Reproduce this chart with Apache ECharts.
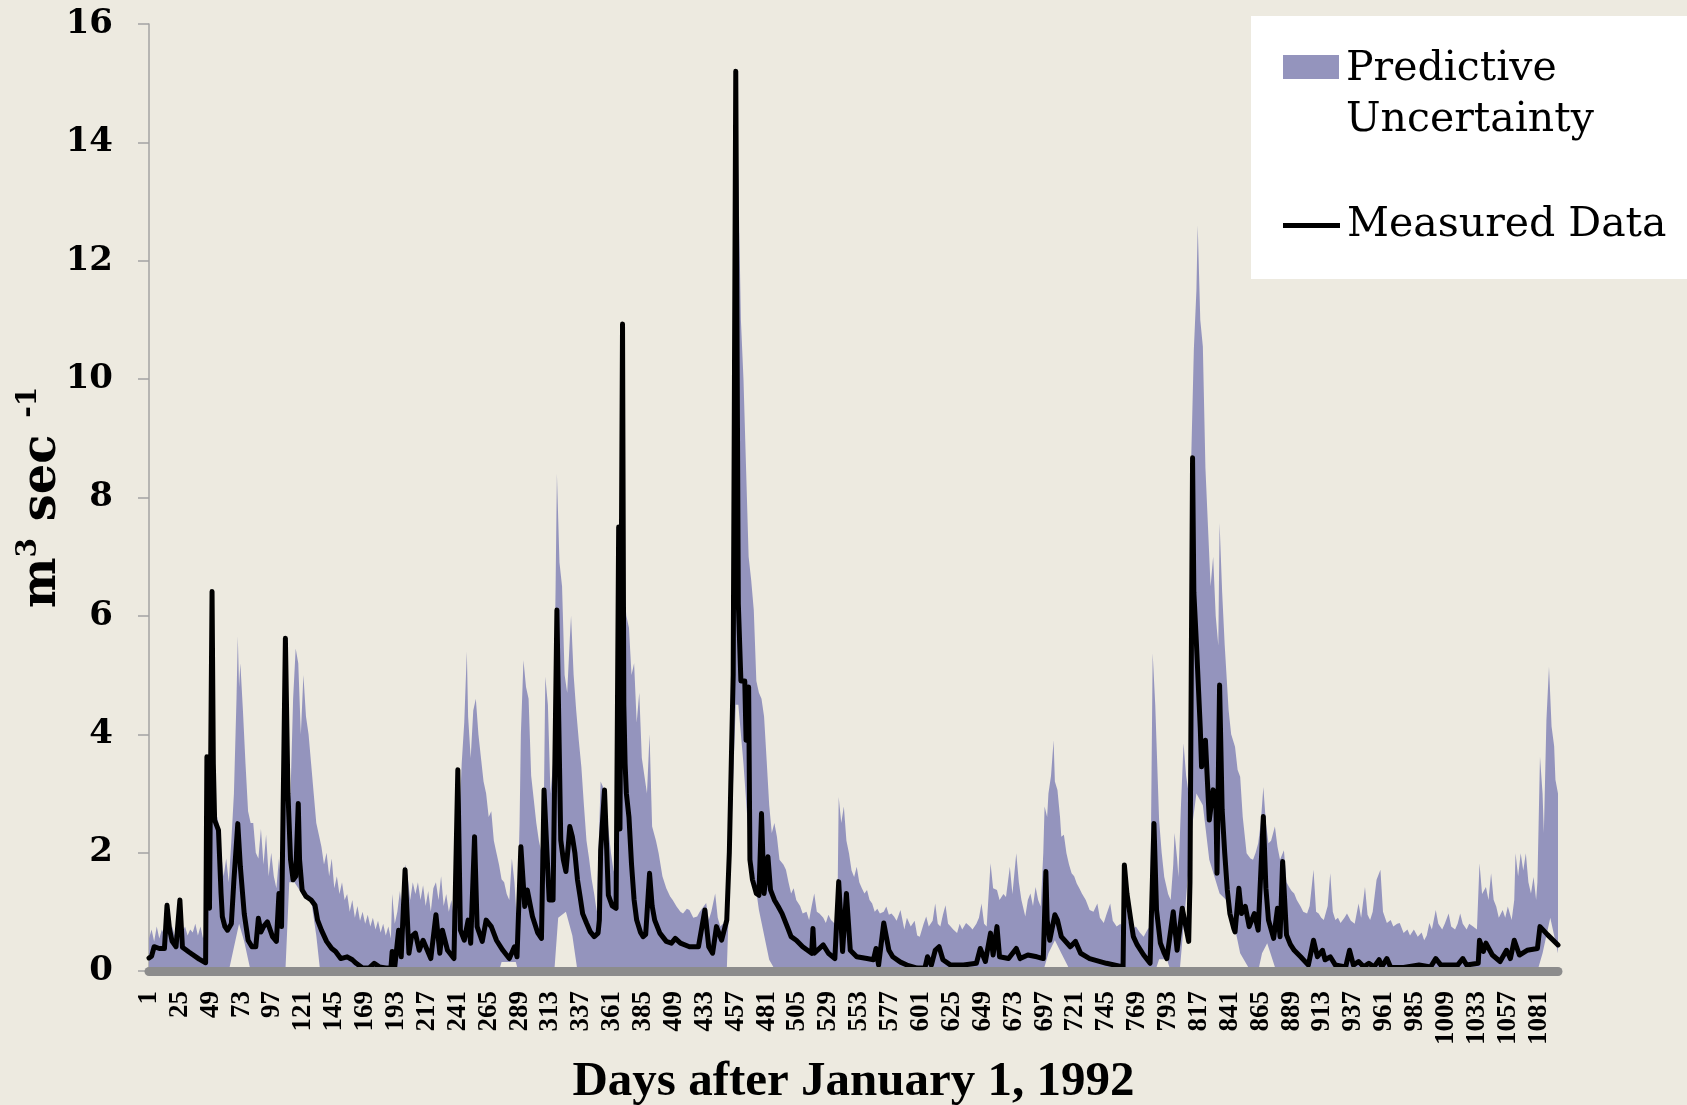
<!DOCTYPE html>
<html>
<head>
<meta charset="utf-8">
<script src="https://cdn.jsdelivr.net/npm/echarts@6/dist/echarts.min.js"></script>
<style>
  html, body { margin: 0; padding: 0; background: #edeae0; }
  #chart { width: 1687px; height: 1105px; }
</style>
</head>
<body>
<div id="chart"></div>
<script>
// Daily streamflow (m3/s), days counted from January 1, 1992.
const dayCategories = [];
for (let d = 1; d <= 1096; d++) dayCategories.push(String(d));

// Measured discharge: [day, value]
const measuredFlow = [
  [1,0.22],[3,0.25],[5,0.41],[9,0.38],[13,0.38],[15,1.11],[17,0.7],[19,0.5],[22,0.41],[25,1.2],[27,0.4],
  [32,0.32],[40,0.2],[45,0.14],[46,3.62],[48,1.06],[50,6.41],[51,3.5],[52,2.55],[55,2.38],[57,1.31],[58,0.92],
  [60,0.75],[62,0.69],[65,0.8],[67,1.54],[70,2.49],[72,1.76],[75,0.97],[78,0.52],[81,0.41],[84,0.41],[86,0.89],[88,0.66],
  [90,0.75],[93,0.83],[97,0.58],[100,0.5],[102,1.31],[104,0.75],[107,5.62],[109,3.0],[111,1.88],[113,1.54],[115,1.6],
  [117,2.83],[118,1.88],[120,1.37],[123,1.26],[127,1.2],[130,1.11],[132,0.86],[135,0.69],[139,0.5],[143,0.38],[146,0.33],[150,0.21],[155,0.24],
  [159,0.19],[162,0.13],[167,0.05],[172,0.05],[176,0.13],[180,0.07],[185,0.05],[189,0.05],[190,0.33],[192,0.07],
  [195,0.69],[197,0.24],[200,1.71],[203,0.3],[205,0.58],[208,0.64],[211,0.35],[214,0.52],[220,0.21],[224,0.95],
  [227,0.3],[229,0.69],[233,0.35],[238,0.21],[241,3.4],[243,0.69],[246,0.52],[249,0.86],[251,0.47],[254,2.27],
  [256,0.75],[260,0.5],[263,0.86],[267,0.75],[271,0.52],[276,0.35],[281,0.21],[285,0.41],[287,0.24],[290,2.1],
  [293,1.09],[295,1.37],[299,0.92],[303,0.65],[306,0.55],[308,3.06],[312,1.2],[315,1.2],[318,6.1],[321,2.21],[323,1.88],[325,1.68],
  [327,2.16],[328,2.44],[330,2.27],[332,1.99],[334,1.54],[336,1.26],[338,0.97],[341,0.81],[344,0.66],[347,0.58],[350,0.64],[351,0.86],[352,2.04],[355,3.06],[358,1.28],[361,1.1],[364,1.06],
  [366,7.5],[367,2.4],[369,10.93],[370,4.5],[371,3.5],[372,3.0],[374,2.6],[376,1.8],[378,1.2],[380,0.86],[383,0.65],[385,0.58],[387,0.62],
  [390,1.65],[392,1.1],[394,0.86],[398,0.64],[403,0.5],[407,0.47],[410,0.55],[414,0.47],[421,0.41],[428,0.41],[433,1.03],
  [436,0.41],[439,0.3],[442,0.75],[446,0.52],[450,0.86],[452,2.0],[455,5.0],[457,15.2],[459,6.2],[461,4.9],
  [464,4.9],[465,3.9],[466,3.9],[467,4.8],[468,1.88],[470,1.54],[473,1.31],[475,1.28],[477,2.66],[479,1.31],[482,1.93],
  [484,1.37],[487,1.2],[490,1.09],[493,0.97],[497,0.75],[500,0.58],[504,0.52],[509,0.41],[516,0.3],[517,0.72],[518,0.3],
  [525,0.44],[529,0.3],[534,0.21],[537,1.51],[540,0.33],[543,1.31],[546,0.35],[551,0.24],[559,0.21],[564,0.19],
  [566,0.38],[568,0.1],[572,0.81],[576,0.35],[579,0.24],[585,0.15],[590,0.1],[598,0.05],[604,0.05],[606,0.24],
  [609,0.1],[612,0.35],[615,0.41],[618,0.19],[624,0.1],[634,0.1],[644,0.13],[647,0.38],[651,0.16],[655,0.64],
  [657,0.27],[660,0.75],[662,0.24],[669,0.21],[675,0.38],[678,0.21],[684,0.27],[691,0.24],[696,0.21],[698,1.68],
  [699,0.86],[701,0.52],[705,0.95],[707,0.86],[710,0.58],[717,0.41],[721,0.5],[725,0.3],[732,0.21],[745,0.13],[758,0.07],
  [759,1.79],[761,1.31],[764,0.86],[766,0.58],[769,0.44],[774,0.27],[779,0.13],[782,2.49],[784,1.03],[787,0.47],[790,0.3],[792,0.21],[797,1.0],[800,0.35],
  [804,1.06],[809,0.5],[810,1.5],[812,8.67],[813,6.4],[815,5.53],[818,4.1],[819,3.45],[822,3.9],[823,3.93],[825,2.55],[828,3.06],[830,3.0],
  [831,1.65],[833,4.83],[835,2.72],[837,1.99],[839,1.37],[841,0.97],[844,0.72],[845,0.66],[848,1.4],[850,0.97],[853,1.09],[856,0.75],[860,0.97],
  [863,0.69],[867,2.61],[869,1.4],[871,0.86],[875,0.55],[878,1.06],[880,0.58],[882,1.85],[885,0.61],[888,0.45],[891,0.35],[896,0.24],
  [902,0.1],[906,0.52],[909,0.24],[913,0.35],[915,0.19],[919,0.24],[923,0.1],[931,0.07],[934,0.35],[937,0.1],
  [941,0.16],[945,0.07],[949,0.13],[953,0.07],[957,0.19],[959,0.07],[963,0.21],[966,0.06],[976,0.06],[988,0.1],
  [997,0.07],[1001,0.21],[1005,0.1],[1018,0.1],[1022,0.21],[1025,0.1],[1034,0.13],[1035,0.52],[1038,0.33],[1040,0.47],
  [1045,0.27],[1051,0.16],[1056,0.35],[1059,0.21],[1062,0.52],[1066,0.27],[1072,0.35],[1080,0.38],[1082,0.75],[1088,0.61],
  [1096,0.44]
];

// Upper limit of the predictive uncertainty band: [day, value]
const bandUpper = [
  [1,0.55],[3,0.7],[5,0.5],[7,0.75],[9,0.55],[11,0.7],[13,0.6],[15,1.2],[17,0.65],[19,0.75],
  [21,0.6],[23,0.7],[25,1.25],[27,0.65],[29,0.75],[31,0.6],[33,0.7],[35,0.65],[37,0.8],[39,0.6],
  [41,0.75],[43,0.55],[45,0.7],[46,3.65],[47,1.5],[49,2.6],[50,6.45],[51,2.9],[53,2.7],[55,2.5],
  [57,2.0],[59,1.6],[61,1.9],[63,1.5],[65,2.2],[67,3.0],[69,4.6],[70,5.65],[71,4.8],[72,5.2],
  [74,4.4],[76,3.5],[78,2.7],[80,2.5],[82,2.5],[84,2.0],[86,1.9],[88,2.4],[90,1.8],[92,2.3],
  [94,1.6],[96,2.0],[98,1.6],[100,1.4],[102,1.9],[104,1.4],[106,1.8],[107,5.65],[109,2.5],[111,3.0],
  [113,4.6],[115,5.45],[117,5.2],[119,4.0],[121,5.0],[123,4.3],[125,4.0],[127,3.5],[129,3.0],[131,2.5],
  [133,2.3],[135,2.1],[137,1.8],[139,2.0],[141,1.6],[143,1.9],[145,1.4],[147,1.6],[149,1.3],[151,1.5],
  [153,1.2],[155,1.3],[157,1.0],[159,1.2],[161,0.9],[163,1.1],[165,0.85],[167,1.0],[169,0.8],[171,0.95],
  [173,0.75],[175,0.9],[177,0.7],[179,0.85],[181,0.65],[183,0.8],[185,0.6],[187,0.75],[189,0.55],[190,1.3],
  [192,0.8],[194,1.0],[196,1.35],[198,1.0],[200,1.8],[202,1.6],[204,1.2],[206,1.5],[208,1.3],[210,1.5],
  [212,1.2],[214,1.45],[216,1.1],[218,1.35],[220,1.0],[222,1.4],[224,1.5],[226,1.2],[228,1.6],[230,1.1],
  [232,1.3],[234,1.0],[236,1.2],[238,0.9],[240,0.7],[241,3.45],[242,2.4],[244,3.5],[246,4.2],[248,5.4],
  [249,4.3],[251,3.6],[253,4.4],[255,4.6],[257,4.0],[259,3.6],[261,3.2],[263,3.0],[265,2.6],[267,2.7],
  [269,2.2],[271,2.0],[273,1.8],[275,1.55],[277,1.5],[279,1.3],[281,1.2],[283,1.9],[285,1.5],[287,0.8],
  [289,2.5],[290,4.0],[292,5.25],[294,4.8],[296,4.6],[298,3.3],[300,2.9],[302,2.5],[304,2.2],[306,2.0],
  [308,3.1],[309,4.97],[311,4.5],[313,3.0],[315,3.5],[317,6.5],[318,8.4],[320,6.9],[322,6.5],[324,5.0],
  [326,4.7],[328,5.6],[329,6.0],[331,5.0],[333,4.4],[335,3.9],[337,3.45],[339,2.8],[341,2.2],[343,1.9],
  [345,1.55],[347,1.3],[349,1.0],[351,2.5],[352,3.2],[354,3.1],[356,2.9],[358,2.4],[360,2.0],[362,1.7],
  [364,1.6],[366,7.55],[367,3.0],[369,11.0],[370,6.5],[372,6.0],[374,5.8],[376,5.0],[378,5.2],[380,4.2],
  [382,4.7],[384,3.6],[386,3.3],[388,3.0],[390,4.0],[392,2.44],[395,2.2],[397,2.0],[400,1.6],[403,1.4],
  [406,1.26],[408,1.2],[411,1.09],[414,1.0],[416,0.97],[419,1.05],[421,1.03],[424,0.9],[427,0.92],[429,1.0],
  [432,1.09],[434,1.15],[436,0.86],[438,1.0],[441,1.31],[443,0.9],[445,0.75],[447,0.8],[449,0.69],[451,1.0],
  [453,2.5],[455,5.8],[457,15.2],[459,13.4],[461,11.0],[463,10.0],[465,8.5],[467,7.0],[469,6.6],[471,6.1],
  [473,4.9],[475,4.7],[477,4.6],[479,4.3],[481,3.56],[483,2.8],[485,2.33],[487,2.5],[489,2.27],[491,1.88],
  [494,1.8],[496,1.71],[498,1.5],[500,1.31],[502,1.4],[504,1.2],[507,1.1],[509,0.97],[512,1.0],[514,0.86],
  [516,1.1],[518,1.31],[520,1.0],[522,0.97],[525,0.9],[527,0.81],[529,0.95],[531,0.86],[534,0.8],[536,1.0],
  [537,2.94],[539,2.5],[541,2.78],[543,2.2],[545,1.99],[547,1.7],[549,1.59],[551,1.76],[553,1.5],[555,1.4],
  [557,1.31],[559,1.37],[561,1.2],[563,1.14],[565,1.0],[567,1.05],[569,0.97],[572,1.0],[574,1.09],[576,0.95],
  [578,0.97],[580,0.92],[582,0.85],[585,1.03],[588,0.7],[590,0.9],[593,0.75],[596,0.85],[598,0.6],[600,0.58],
  [603,0.8],[605,0.92],[607,0.75],[610,0.85],[612,1.14],[614,0.8],[616,0.75],[618,0.95],[620,1.11],[622,0.8],
  [624,0.75],[626,0.7],[629,0.64],[631,0.8],[633,0.7],[636,0.81],[639,0.75],[641,0.7],[644,0.8],[646,0.9],
  [648,1.14],[650,0.8],[652,0.75],[655,1.82],[657,1.4],[660,1.37],[662,1.2],[665,1.3],[667,1.25],[670,1.76],
  [672,1.3],[675,1.99],[677,1.5],[679,1.2],[682,0.92],[684,1.2],[686,1.31],[688,1.1],[690,1.42],[692,1.2],
  [694,1.09],[696,2.0],[697,2.78],[699,2.6],[700,3.0],[702,3.3],[704,3.9],[705,3.2],[707,3.06],[709,2.6],
  [710,2.27],[712,2.3],[714,1.99],[716,1.8],[718,1.65],[720,1.6],[722,1.48],[724,1.4],[726,1.31],[729,1.2],
  [732,1.03],[735,1.0],[738,1.14],[740,0.9],[743,0.81],[745,0.95],[748,1.14],[750,0.85],[753,0.75],[756,0.8],
  [758,0.69],[760,1.79],[762,0.85],[765,0.7],[768,0.75],[771,0.65],[774,0.58],[777,0.7],[779,0.75],[781,5.37],
  [783,4.5],[784,3.85],[786,2.55],[788,2.0],[790,1.59],[793,1.3],[795,1.2],[797,1.8],[798,2.33],[800,1.9],
  [801,1.59],[803,2.8],[805,3.85],[807,3.3],[809,3.0],[811,8.7],[813,10.5],[815,11.5],[816,12.6],[818,11.0],
  [820,10.55],[822,8.5],[824,7.5],[826,6.5],[828,7.0],[830,6.0],[832,5.5],[833,7.57],[835,6.4],[837,5.5],
  [840,4.41],[842,4.0],[845,3.79],[847,3.4],[849,3.28],[851,2.6],[854,1.99],[857,1.9],[859,1.88],[861,2.0],
  [863,2.16],[865,2.5],[867,3.11],[869,2.5],[871,2.16],[873,2.2],[876,2.44],[878,2.1],[880,1.88],[883,2.04],
  [885,1.5],[887,1.42],[889,1.35],[891,1.31],[893,1.2],[896,1.09],[898,1.0],[901,0.97],[903,1.1],[906,1.71],
  [908,1.0],[910,0.97],[912,0.9],[914,0.86],[917,1.1],[919,1.65],[921,1.0],[923,0.86],[925,0.9],[927,0.81],
  [930,0.9],[932,0.97],[935,0.85],[938,0.8],[941,1.14],[943,0.9],[946,1.42],[948,0.95],[950,0.86],[952,1.0],
  [955,1.54],[958,1.71],[960,1.0],[963,0.81],[966,0.86],[968,0.75],[971,0.8],[973,0.81],[976,0.64],[979,0.7],
  [981,0.6],[984,0.7],[987,0.58],[990,0.65],[992,0.52],[994,0.6],[996,0.81],[998,0.7],[1001,1.03],[1003,0.8],
  [1006,0.7],[1008,0.8],[1011,0.97],[1013,0.75],[1016,0.7],[1018,0.8],[1020,0.97],[1022,0.8],[1025,0.7],[1027,0.8],
  [1030,0.75],[1033,0.7],[1035,1.82],[1037,1.3],[1040,1.42],[1042,1.2],[1044,1.65],[1046,1.2],[1048,1.09],[1050,0.9],
  [1053,1.03],[1055,0.9],[1057,1.09],[1060,0.86],[1062,1.2],[1063,1.99],[1065,1.6],[1067,1.99],[1069,1.7],[1071,1.99],
  [1073,1.5],[1075,1.31],[1077,1.59],[1079,1.2],[1080,1.5],[1082,3.62],[1084,3.0],[1085,2.33],[1087,4.24],[1089,5.14],
  [1091,4.13],[1093,3.8],[1094,3.23],[1096,3.0]
];

// Lower limit of the predictive uncertainty band: [day, value]
const bandLower = [
  [1,0],[63,0],[67,0.4],[71,0.8],[75,0.5],[80,0],[107,0],[110,1.5],[114,1.5],[120,1.3],
  [127,1.2],[131,0.6],[134,0],[273,0],[275,0.15],[286,0.15],[288,0],[316,0],[319,0.9],[325,1.0],
  [330,0.6],[334,0],[450,0],[453,2.0],[457,4.5],[459,4.5],[463,3.5],[467,2.27],[475,1.03],[483,0.19],
  [488,0],[696,0],[700,0.3],[705,0.52],[710,0.3],[717,0],[783,0],[786,0.2],[792,0.2],[795,0],
  [802,0],[806,1.0],[812,2.5],[815,3.0],[820,2.8],[825,1.88],[833,1.31],[841,1.14],[849,0.3],[857,0],
  [863,0],[866,0.3],[870,0.47],[877,0],[1080,0],[1084,0.3],[1090,0.9],[1093,0.6],[1096,0.3]
];

// Y axis tick values
const yTicks = { min: 0, max: 16, step: 2 };

const PURPLE = '#9494bd';
const BG = '#edeae0';
const toCat = (arr) => arr.map(([d, v]) => [String(d), v]);

// Legend swatch for the band: a 56x24 block sitting on the first of two text lines
const bandSwatch = 'path://M0,10h56v24h-56z M0,0h0.01 M0,100h0.01';

const chart = echarts.init(document.getElementById('chart'), null, { renderer: 'canvas' });

chart.setOption({
  backgroundColor: BG,
  animation: false,
  grid: { left: 149, right: 129, top: 24, bottom: 134, containLabel: false, outerBoundsMode: 'none' },
  graphic: [{
    type: 'rect', left: 1251, top: 16, z: 0, silent: true,
    shape: { width: 436, height: 263 },
    style: { fill: '#ffffff' }
  }],
  legend: [
    {
      data: [{ name: 'Predictive Uncertainty', icon: bandSwatch }],
      left: 1283, top: 44, padding: 0, orient: 'vertical',
      itemWidth: 56, itemHeight: 100, selectedMode: false,
      formatter: () => 'Predictive\nUncertainty',
      textStyle: { fontFamily: 'DejaVu Serif', fontSize: 41, lineHeight: 51, color: '#000', padding: [0, 0, 0, 2] }
    },
    {
      data: [{ name: 'Measured Data', icon: 'rect' }],
      left: 1283, top: 203, padding: 0,
      itemWidth: 57, itemHeight: 5, selectedMode: false,
      textStyle: { fontFamily: 'DejaVu Serif', fontSize: 41, lineHeight: 45, color: '#000', padding: [0, 0, 0, 2] }
    }
  ],
  xAxis: {
    type: 'category',
    data: dayCategories,
    boundaryGap: false,
    offset: 5,
    z: 10,
    axisLine: { lineStyle: { color: '#8c8c8c', width: 9 } },
    axisTick: { show: false },
    axisLabel: {
      interval: 23, rotate: 90, margin: 15,
      fontFamily: 'Liberation Serif', fontWeight: 'bold', fontSize: 27, color: '#000'
    },
    splitLine: { show: false },
    name: 'Days after January 1, 1992',
    nameLocation: 'middle',
    nameGap: 82,
    nameTextStyle: { fontFamily: 'Liberation Serif', fontWeight: 'bold', fontSize: 49, color: '#000' }
  },
  yAxis: {
    type: 'value',
    min: yTicks.min, max: yTicks.max, interval: yTicks.step,
    axisLine: { show: true, lineStyle: { color: '#a3a3a3', width: 1.5 } },
    axisTick: { show: true, length: 11, lineStyle: { color: '#a3a3a3', width: 1.5 } },
    splitLine: { show: false },
    axisLabel: { margin: 36, fontFamily: 'DejaVu Serif', fontWeight: 'bold', fontSize: 34, color: '#000' },
    name: '{m|m}{s|3}{m| sec }{s|-1}',
    nameLocation: 'middle',
    nameRotate: 90,
    nameGap: 78,
    nameMoveOverlap: false,
    nameTextStyle: {
      rich: {
        m: { fontFamily: 'DejaVu Serif', fontWeight: 'bold', fontSize: 48, color: '#000', lineHeight: 56 },
        s: { fontFamily: 'DejaVu Serif', fontWeight: 'bold', fontSize: 28, color: '#000', lineHeight: 30, verticalAlign: 'top' }
      }
    }
  },
  series: [
    {
      name: 'Predictive Uncertainty',
      type: 'line',
      data: toCat(bandUpper),
      symbol: 'none',
      silent: true,
      z: 1,
      lineStyle: { width: 0 },
      itemStyle: { color: PURPLE },
      areaStyle: { color: PURPLE, opacity: 1 }
    },
    {
      name: 'band floor',
      type: 'line',
      data: toCat(bandLower),
      symbol: 'none',
      silent: true,
      z: 2,
      lineStyle: { width: 0 },
      itemStyle: { color: BG },
      areaStyle: { color: BG, opacity: 1 }
    },
    {
      name: 'Measured Data',
      type: 'line',
      data: toCat(measuredFlow),
      symbol: 'none',
      z: 3,
      itemStyle: { color: '#000' },
      lineStyle: { color: '#000', width: 5, join: 'round', cap: 'round' }
    }
  ]
});
</script>
</body>
</html>
